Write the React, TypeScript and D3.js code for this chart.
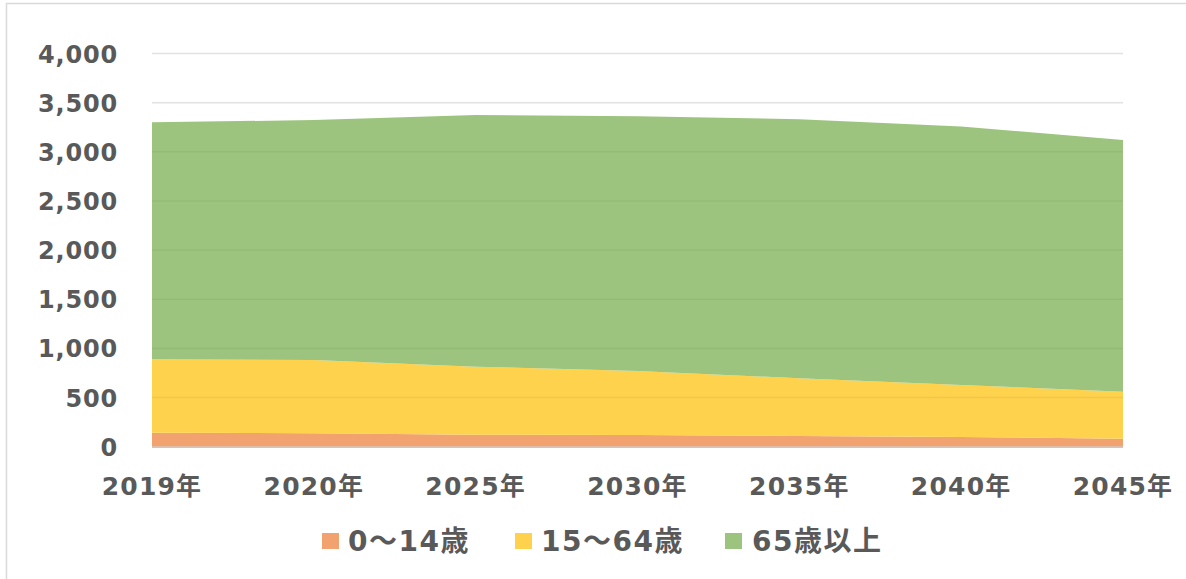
import React from "react";
import * as d3 from "d3";

const categories = ["2019年", "2020年", "2025年", "2030年", "2035年", "2040年", "2045年"];
const seriesNames = ["0～14歳", "15～64歳", "65歳以上"];
const age0to14 = [142, 136, 122, 118, 109, 99, 81];
const age15to64 = [747, 746, 692, 653, 587, 529, 479];
const age65plus = [2411, 2441, 2560, 2591, 2635, 2630, 2561];
const yTicks = [0, 500, 1000, 1500, 2000, 2500, 3000, 3500, 4000];
const colors = ["#F1A26E", "#FED24C", "#9CC47E"];

const W = 1186;
const H = 579;
const FONT = "'DejaVu Sans', 'Noto Sans CJK JP', sans-serif";

export default function App() {
  const x = d3.scalePoint<string>().domain(categories).range([152, 1123]);
  const y = d3.scaleLinear().domain([0, 4000]).range([446.7, 53.5]);

  const rows = categories.map((c, i) => ({
    cat: c,
    a: age0to14[i],
    b: age15to64[i],
    c: age65plus[i],
  }));
  const stack = d3.stack<any>().keys(["a", "b", "c"]);
  const layers = stack(rows);
  const area = d3
    .area<any>()
    .x((d) => x(d.data.cat) as number)
    .y0((d) => y(d[0]))
    .y1((d) => y(d[1]));

  const fmt = d3.format(",");

  const legendItems = [
    { sq: 322, tx: 348 },
    { sq: 515, tx: 541 },
    { sq: 725, tx: 752 },
  ];

  return (
    <div style={{ position: "absolute", left: 0, top: 0 }}>
      <svg width={W} height={H} style={{ display: "block" }} fontFamily={FONT}>
        <rect x={0} y={0} width={W} height={H} fill="#fff" />
        {/* frame */}
        <line x1={6} y1={3.5} x2={W} y2={3.5} stroke="#d9d9d9" strokeWidth={1.5} />
        <line x1={6.5} y1={3} x2={6.5} y2={H} stroke="#d9d9d9" strokeWidth={1.5} />

        {/* gridlines background */}
        {yTicks.map((t) => (
          <line key={"g" + t} x1={152} x2={1123} y1={y(t)} y2={y(t)} stroke="#eeeeee" strokeWidth={1.5} />
        ))}

        {layers.map((l, i) => (
          <path key={i} d={area(l as any) || ""} fill={colors[i]} />
        ))}

        {/* gridlines over areas */}
        {yTicks.slice(1).map((t) => (
          <line key={"o" + t} x1={152} x2={1123} y1={y(t)} y2={y(t)} stroke="#000" strokeOpacity={0.05} strokeWidth={1.5} />
        ))}

        {/* baseline */}
        <line x1={152} x2={1123} y1={y(0) + 0.5} y2={y(0) + 0.5} stroke="#c8c8c8" strokeWidth={1.5} />

        {/* y tick labels */}
        {yTicks.map((t) => (
          <text
            key={"y" + t}
            x={118}
            y={y(t) + 9}
            textAnchor="end"
            fontSize={24}
            fontWeight="bold"
            fill="#595959"
            letterSpacing={0.8}
          >
            {fmt(t)}
          </text>
        ))}

        {/* x tick labels */}
        {categories.map((c) => (
          <text
            key={c}
            x={x(c) as number}
            y={495}
            textAnchor="middle"
            fontSize={25}
            fontWeight="bold"
            fill="#595959"
            letterSpacing={1.2}
          >
            {c}
          </text>
        ))}

        {/* legend */}
        {seriesNames.map((n, i) => (
          <g key={n}>
            <rect x={legendItems[i].sq} y={533} width={17} height={16} fill={colors[i]} />
            <text
              x={legendItems[i].tx}
              y={551}
              fontSize={28}
              fontWeight="bold"
              fill="#595959"
              letterSpacing={1.5}
            >
              {n}
            </text>
          </g>
        ))}
      </svg>
    </div>
  );
}
